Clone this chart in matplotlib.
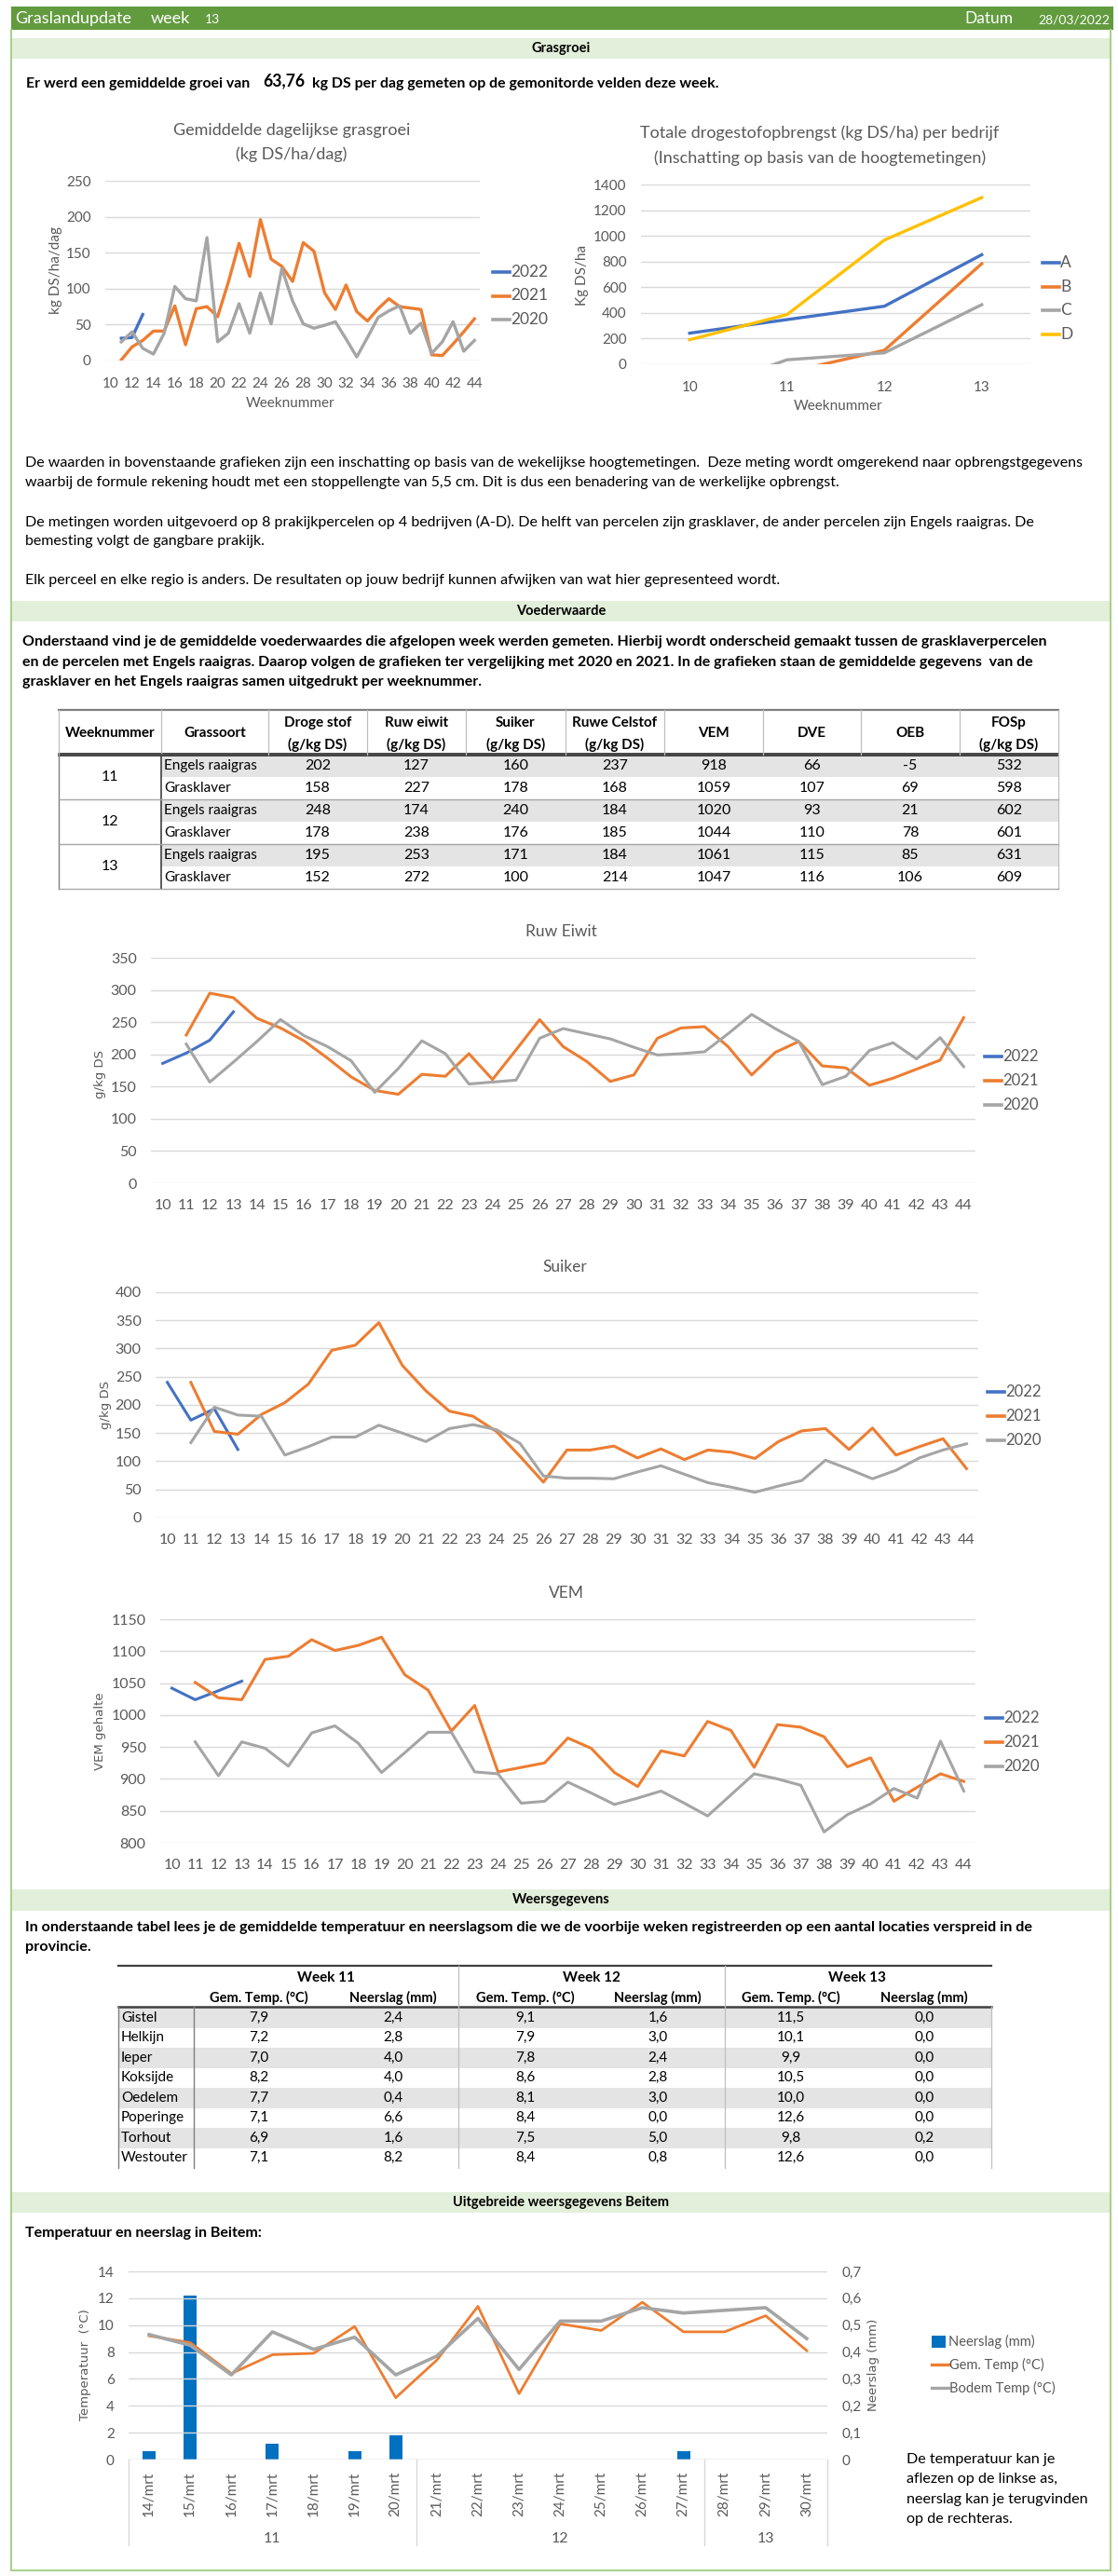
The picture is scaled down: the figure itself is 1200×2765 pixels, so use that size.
import numpy as np
import matplotlib
matplotlib.use("Agg")
import matplotlib.pyplot as plt
from matplotlib.patches import Rectangle
from matplotlib.lines import Line2D
from matplotlib.font_manager import FontProperties, findfont

nan = np.nan

# ---- gegevens ----
weken = np.arange(10, 45)

# grasgroei (kg DS/ha/dag), 2021/2020 vanaf week 11
groei_weken_2022 = [11, 12, 13]
groei_2022 = [31, 32, 64]
groei_weken = np.arange(11, 45)
groei_2021 = [1, 19, 28, 41, 41, 76, 22, 72, 75, 61, 109, 163, 117, 196, 141, 131, 110,
              164, 152, 94, 71, 105, 68, 55, 72, 86, 75, 73, 71, 8, 7, 23, 40, 58]
groei_2020 = [26, 40, 17, 9, 38, 103, 86, 83, 171, 26, 38, 79, 38, 94, 51, 128, 83,
              51, 45, 49, 54, 30, 5, 32, 60, 69, 76, 38, 52, 10, 26, 54, 13, 28]

# drogestofopbrengst per bedrijf
bedrijf_weken = [10, 11, 12, 13]
bedrijf_A = [242, 348, 452, 853]
bedrijf_B = [nan, -64, 109, 783]
bedrijf_C = [-235, 35, 89, 464]
bedrijf_D = [191, 387, 967, 1298]

# voederwaarde grafieken: 2022 week 10-13, 2021/2020 week 11-44
vw_weken_2022 = [10, 11, 12, 13]
vw_weken = np.arange(11, 45)
eiwit_2022 = [186, 202, 222, 266]
eiwit_2021 = [230, 295, 288, 256, 241, 221, 194, 165, 144, 138, 169, 166, 201, 161, 207, 254, 212,
              189, 158, 168, 225, 241, 243, 212, 168, 203, 220, 182, 179, 152, 163, 177, 191, 257]
eiwit_2020 = [216, 157, 188, 220, 254, 229, 212, 190, 141, 178, 221, 201, 154, 157, 160, 225, 240,
              232, 224, 211, 199, 201, 204, 232, 262, 240, 220, 153, 166, 206, 218, 193, 226, 181]
suiker_2022 = [240, 173, 193, 121]
suiker_2021 = [240, 153, 148, 183, 204, 237, 297, 306, 346, 270, 225, 189, 180, 153, 109, 63, 120,
               120, 127, 106, 122, 103, 120, 116, 105, 135, 154, 158, 121, 159, 111, 126, 140, 87]
suiker_2020 = [133, 196, 182, 180, 111, 126, 143, 143, 164, 150, 135, 158, 165, 156, 132, 74, 70,
               70, 69, 81, 92, 77, 62, 54, 45, 56, 66, 102, 86, 69, 84, 106, 120, 131]
vem_2022 = [1042, 1024, 1038, 1053]
vem_2021 = [1051, 1027, 1024, 1087, 1092, 1118, 1101, 1109, 1122, 1063, 1039, 975, 1015, 911, 918,
            925, 964, 948, 910, 888, 944, 936, 990, 976, 918, 985, 981, 966, 919, 933, 865, 887, 908, 896]
vem_2020 = [958, 905, 958, 948, 920, 972, 983, 956, 910, 941, 973, 973, 911, 908, 862, 865, 895,
            878, 860, 870, 881, 862, 842, 875, 908, 900, 890, 817, 844, 861, 885, 870, 959, 881]

# tabel voederwaarde
tabel_weken = [11, 12, 13]
tabel_soort = ["Engels raaigras", "Grasklaver"]
tabel_kop = [["Weeknummer"], ["Grassoort"], ["Droge stof", "(g/kg DS)"], ["Ruw eiwit", "(g/kg DS)"],
             ["Suiker", "(g/kg DS)"], ["Ruwe Celstof", "(g/kg DS)"], ["VEM"], ["DVE"], ["OEB"],
             ["FOSp", "(g/kg DS)"]]
droge_stof = [202, 158, 248, 178, 195, 152]
ruw_eiwit = [127, 227, 174, 238, 253, 272]
suiker = [160, 178, 240, 176, 171, 100]
ruwe_celstof = [237, 168, 184, 185, 184, 214]
vem = [918, 1059, 1020, 1044, 1061, 1047]
dve = [66, 107, 93, 110, 115, 116]
oeb = [-5, 69, 21, 78, 85, 106]
fosp = [532, 598, 602, 601, 631, 609]

# weersgegevens
locaties = ["Gistel", "Helkijn", "Ieper", "Koksijde", "Oedelem", "Poperinge", "Torhout", "Westouter"]
temp_w11 = [7.9, 7.2, 7.0, 8.2, 7.7, 7.1, 6.9, 7.1]
neer_w11 = [2.4, 2.8, 4.0, 4.0, 0.4, 6.6, 1.6, 8.2]
temp_w12 = [9.1, 7.9, 7.8, 8.6, 8.1, 8.4, 7.5, 8.4]
neer_w12 = [1.6, 3.0, 2.4, 2.8, 3.0, 0.0, 5.0, 0.8]
temp_w13 = [11.5, 10.1, 9.9, 10.5, 10.0, 12.6, 9.8, 12.6]
neer_w13 = [0.0, 0.0, 0.0, 0.0, 0.0, 0.0, 0.2, 0.0]

# Beitem
dagen = ["14/mrt", "15/mrt", "16/mrt", "17/mrt", "18/mrt", "19/mrt", "20/mrt", "21/mrt", "22/mrt",
         "23/mrt", "24/mrt", "25/mrt", "26/mrt", "27/mrt", "28/mrt", "29/mrt", "30/mrt"]
dag_week = [11] * 7 + [12] * 7 + [13] * 3
neerslag = [0.03, 0.61, 0, 0.06, 0, 0.03, 0.09, 0, 0, 0, 0, 0, 0, 0.03, 0, 0, 0]
gem_temp = [9.2, 8.7, 6.4, 7.8, 7.9, 9.9, 4.6, 7.4, 11.4, 4.9, 10.1, 9.6, 11.7, 9.5, 9.5, 10.7, 8.1]
bodem_temp = [9.3, 8.5, 6.3, 9.5, 8.2, 9.1, 6.3, 7.7, 10.5, 6.7, 10.3, 10.3, 11.3, 10.9, 11.1, 11.3, 9.0]


def pick(*names):
    for n in names:
        try:
            findfont(FontProperties(family=n), fallback_to_default=False)
            return n
        except Exception:
            pass
    return "DejaVu Sans"


BODY = pick("Lato", "Open Sans", "Noto Sans")
plt.rcParams["font.family"] = [BODY, "DejaVu Sans"]

C22, C21, C20, CD = "#4472c4", "#ed7d31", "#a5a5a5", "#ffc000"
TXT = "#595959"
GRID = "#d9d9d9"
HDR = "#629b3e"
BAND = "#e2efda"
FRAME = "#a9d18e"
SHADE = "#e4e4e4"

W, H = 1200, 2765
fig = plt.figure(figsize=(W / 100, H / 100), dpi=100)
renderer = fig.canvas.get_renderer()


def fx(x):
    return x / W


def fy(y):
    return 1 - y / H


def text(x, y, s, **kw):
    kw.setdefault("va", "center")
    return fig.text(fx(x), fy(y), s, **kw)


def rect(x0, y0, x1, y1, **kw):
    fig.add_artist(Rectangle((fx(x0), fy(y1)), (x1 - x0) / W, (y1 - y0) / H,
                             transform=fig.transFigure, **kw))


def hline(x0, x1, y, **kw):
    fig.add_artist(Line2D([fx(x0), fx(x1)], [fy(y), fy(y)], **kw))


def vline(x, y0, y1, **kw):
    fig.add_artist(Line2D([fx(x), fx(x)], [fy(y0), fy(y1)], **kw))


def axes_px(x0, y0, x1, y1):
    return fig.add_axes([fx(x0), fy(y1), (x1 - x0) / W, (y1 - y0) / H])


def breedte(s, size, weight="normal"):
    t = fig.text(0, 0, s, fontsize=size, weight=weight)
    w = t.get_window_extent(renderer=renderer).width
    t.remove()
    return w


def fit(s, width, weight="normal"):
    return 10 * width / breedte(s, 10, weight)


def band(y0, y1, title):
    rect(12, y0, 1192, y1, color=BAND, lw=0)
    text(602, (y0 + y1) / 2, title, ha="center", fontsize=10.5, weight="bold")


def legend_px(x, y0, dy, entries, size=11.5):
    for i, (lab, col) in enumerate(entries):
        y = y0 + i * dy
        hline(x, x + 18, y, color=col, lw=2.6)
        text(x + 19, y, lab, fontsize=size, color=TXT)


def style(ax, ylim, ystep, xlim, labsize=11):
    ax.set_xlim(*xlim)
    ax.set_ylim(*ylim)
    ax.set_yticks(np.arange(ylim[0], ylim[1] + 0.1, ystep))
    for s in ax.spines.values():
        s.set_visible(False)
    ax.grid(axis="y", color=GRID, lw=1.0)
    ax.set_axisbelow(True)
    ax.tick_params(length=0, colors=TXT, labelsize=labsize, pad=11)


# ---- kader en kop ----
rect(12, 7, 1195, 32, color=HDR, lw=0)
text(16, 20, "Graslandupdate", fontsize=13, color="white")
text(162, 20, "week", fontsize=13, color="white")
text(220, 21, "13", fontsize=10, color="white")
text(1035, 20, "Datum", fontsize=12.5, color="white")
text(1191, 21, "28/03/2022", fontsize=10, color="white", ha="right")
vline(12, 32, 2759, color=FRAME, lw=1.5)
vline(1192, 32, 2759, color=FRAME, lw=1.5)
hline(12, 1192, 2759, color=FRAME, lw=1.5)

# ---- grasgroei ----
band(41, 63, "Grasgroei")
zin = ["Er werd een gemiddelde groei van", "63,76", "kg DS per dag gemeten op de gemonitorde velden deze week."]
fs = fit(zin[0], 242, "bold")
text(28, 90, zin[0], fontsize=fs, weight="bold")
x2 = 28 + breedte(zin[0], fs, "bold") + 14
text(x2, 87, zin[1], fontsize=fs * 1.1, weight="bold")
x3 = x2 + breedte(zin[1], fs * 1.1, "bold") + 8
text(x3, 90, zin[2], fontsize=fs, weight="bold")

ax = axes_px(113, 194, 515, 387)
ax.plot(groei_weken_2022, groei_2022, color=C22, lw=2.4)
ax.plot(groei_weken, groei_2021, color=C21, lw=2.4)
ax.plot(groei_weken, groei_2020, color=C20, lw=2.4)
style(ax, (0, 250), 50, (9.5, 44.5))
ax.set_xticks(weken[::2])
ax.tick_params(axis="x", pad=13)
text(313, 140, "Gemiddelde dagelijkse grasgroei", ha="center", fontsize=13, color=TXT)
text(313, 166, "(kg DS/ha/dag)", ha="center", fontsize=13, color=TXT)
text(60, 290, "kg DS/ha/dag", rotation=90, ha="center", fontsize=11, color=TXT)
text(312, 433, "Weeknummer", ha="center", fontsize=11, color=TXT)
legend_px(529, 292, 25.5, [("2022", C22), ("2021", C21), ("2020", C20)], size=12.5)

ax = axes_px(688, 198, 1106, 391)
ax.plot(bedrijf_weken, bedrijf_A, color=C22, lw=2.4)
ax.plot(bedrijf_weken, bedrijf_B, color=C21, lw=2.4)
ax.plot(bedrijf_weken, bedrijf_C, color=C20, lw=2.4)
ax.plot(bedrijf_weken, bedrijf_D, color=CD, lw=2.4)
style(ax, (0, 1400), 200, (9.5, 13.5))
ax.set_xticks(bedrijf_weken)
ax.tick_params(axis="x", pad=13)
text(880, 143, "Totale drogestofopbrengst (kg DS/ha) per bedrijf", ha="center", fontsize=13, color=TXT)
text(880, 170, "(Inschatting op basis van de hoogtemetingen)", ha="center", fontsize=13, color=TXT)
text(625, 295, "Kg DS/ha", rotation=90, ha="center", fontsize=11, color=TXT)
text(900, 436, "Weeknummer", ha="center", fontsize=11, color=TXT)
legend_px(1119, 282, 25.7, [("A", C22), ("B", C21), ("C", C20), ("D", CD)], size=12.5)

para1 = ["De waarden in bovenstaande grafieken zijn een inschatting op basis van de wekelijkse hoogtemetingen.  Deze meting wordt omgerekend naar opbrengstgegevens",
         "waarbij de formule rekening houdt met een stoppellengte van 5,5 cm. Dit is dus een benadering van de werkelijke opbrengst."]
para2 = ["De metingen worden uitgevoerd op 8 prakijkpercelen op 4 bedrijven (A-D). De helft van percelen zijn grasklaver, de ander percelen zijn Engels raaigras. De",
         "bemesting volgt de gangbare prakijk."]
para3 = ["Elk perceel en elke regio is anders. De resultaten op jouw bedrijf kunnen afwijken van wat hier gepresenteed wordt."]
fs = fit(para1[0], 1135)
for lines, y0 in [(para1, 497), (para2, 560), (para3, 623)]:
    for i, s in enumerate(lines):
        text(27, y0 + i * 21, s, fontsize=fs)

# ---- voederwaarde ----
band(645, 667, "Voederwaarde")
para4 = ["Onderstaand vind je de gemiddelde voederwaardes die afgelopen week werden gemeten. Hierbij wordt onderscheid gemaakt tussen de grasklaverpercelen",
         "en de percelen met Engels raaigras. Daarop volgen de grafieken ter vergelijking met 2020 en 2021. In de grafieken staan de gemiddelde gegevens  van de",
         "grasklaver en het Engels raaigras samen uitgedrukt per weeknummer."]
fs = fit(para4[0], 1112, "bold")
for i, s in enumerate(para4):
    text(24, 689 + i * 21.5, s, fontsize=fs, weight="bold")

cols = [63, 173, 288, 394, 500, 607, 713, 819, 924, 1030, 1136]
top, kop_onder, rij_h = 762, 810, 24
for i in range(6):
    if i % 2 == 0:
        rect(173, kop_onder + i * rij_h, 1136, kop_onder + (i + 1) * rij_h, color=SHADE, lw=0)
hline(63, 1136, top, color="#7f7f7f", lw=1.6)
hline(63, 1136, kop_onder - 1, color="#262626", lw=1.2)
hline(63, 1136, kop_onder + 1, color="#262626", lw=1.2)
for x in cols:
    vline(x, top, kop_onder, color="#bfbfbf", lw=0.9)
vline(63, kop_onder, kop_onder + 6 * rij_h, color="#7f7f7f", lw=1.0)
vline(173, kop_onder, kop_onder + 6 * rij_h, color="#404040", lw=1.2)
vline(1136, kop_onder, kop_onder + 6 * rij_h, color="#bfbfbf", lw=0.9)
for k in (2, 4, 6):
    hline(63, 1136, kop_onder + k * rij_h, color="#a6a6a6", lw=1.0)
for j, kop in enumerate(tabel_kop):
    xc = (cols[j] + cols[j + 1]) / 2
    if len(kop) == 1:
        text(xc, 787, kop[0], ha="center", fontsize=11, weight="bold")
    else:
        text(xc, 776, kop[0], ha="center", fontsize=11, weight="bold")
        text(xc, 799, kop[1], ha="center", fontsize=11, weight="bold")
waarden = [droge_stof, ruw_eiwit, suiker, ruwe_celstof, vem, dve, oeb, fosp]
for i in range(6):
    yc = kop_onder + (i + 0.5) * rij_h
    text(176, yc, tabel_soort[i % 2], fontsize=11)
    for j, kol in enumerate(waarden):
        text((cols[j + 2] + cols[j + 3]) / 2, yc, str(kol[i]), ha="center", fontsize=11.5)
for k, wk in enumerate(tabel_weken):
    text((cols[0] + cols[1]) / 2, kop_onder + (2 * k + 1) * rij_h, str(wk), ha="center", fontsize=11.5)


def lijnen_grafiek(box, titel, ylabel, ylab_xy, ylim, ystep, reeksen, legend_xy, title_y):
    ax = axes_px(*box)
    for w, v, c in reeksen:
        ax.plot(w, v, color=c, lw=2.2)
    style(ax, ylim, ystep, (9.5, 44.5), labsize=11.5)
    ax.set_xticks(weken)
    ax.tick_params(axis="x", pad=12)
    text((box[0] + box[2]) / 2 - 2, title_y, titel, ha="center", fontsize=12.5, color=TXT)
    text(ylab_xy[0], ylab_xy[1], ylabel, rotation=90, ha="center", fontsize=9.5,
         color=TXT, family="DejaVu Sans")
    legend_px(legend_xy[0], legend_xy[1], 26, [("2022", C22), ("2021", C21), ("2020", C20)], size=12)
    return ax


lijnen_grafiek((162, 1028, 1047, 1270), "Ruw Eiwit", "g/kg DS", (108, 1153), (0, 350), 50,
               [(vw_weken_2022, eiwit_2022, C22), (vw_weken, eiwit_2021, C21), (vw_weken, eiwit_2020, C20)],
               (1057, 1134), 1000)
lijnen_grafiek((167, 1387, 1050, 1629), "Suiker", "g/kg DS", (113, 1508), (0, 400), 50,
               [(vw_weken_2022, suiker_2022, C22), (vw_weken, suiker_2021, C21), (vw_weken, suiker_2020, C20)],
               (1060, 1494), 1360)
lijnen_grafiek((172, 1738, 1047, 1978), "VEM", "VEM gehalte", (108, 1858), (800, 1150), 50,
               [(vw_weken_2022, vem_2022, C22), (vw_weken, vem_2021, C21), (vw_weken, vem_2020, C20)],
               (1058, 1844), 1710)

# ---- weersgegevens ----
band(2028, 2051, "Weersgegevens")
para5 = ["In onderstaande tabel lees je de gemiddelde temperatuur en neerslagsom die we de voorbije weken registreerden op een aantal locaties verspreid in de",
         "provincie."]
fs = fit(para5[0], 1090, "bold")
for i, s in enumerate(para5):
    text(27, 2069 + i * 21, s, fontsize=fs, weight="bold")

wx = [127, 208, 492, 778, 1064]
sub_x = [278, 422, 564, 706, 849, 992]
week_x = [350, 635, 920]
r0, rh = 2155, 21.5
for i in range(len(locaties)):
    if i % 2 == 0:
        rect(127, r0 + i * rh, 1064, r0 + (i + 1) * rh, color=SHADE, lw=0)
hline(127, 1064, 2110, color="#404040", lw=1.6)
hline(127, 1064, 2154, color="#404040", lw=1.8)
for x in wx[2:4]:
    vline(x, 2110, r0 + 8 * rh, color="#bfbfbf", lw=0.9)
vline(127, 2154, r0 + 8 * rh, color="#7f7f7f", lw=1.0)
vline(208, 2154, r0 + 8 * rh, color="#7f7f7f", lw=1.0)
vline(1064, 2154, r0 + 8 * rh, color="#bfbfbf", lw=0.9)
for k, wk in enumerate(["Week 11", "Week 12", "Week 13"]):
    text(week_x[k], 2123, wk, ha="center", fontsize=11, weight="bold")
    text(sub_x[2 * k], 2144, "Gem. Temp. (°C)", ha="center", fontsize=10.5, weight="bold")
    text(sub_x[2 * k + 1], 2144, "Neerslag (mm)", ha="center", fontsize=10.5, weight="bold")
kolommen = [temp_w11, neer_w11, temp_w12, neer_w12, temp_w13, neer_w13]
for i, loc in enumerate(locaties):
    yc = r0 + (i + 0.5) * rh
    text(130, yc, loc, fontsize=11)
    for j, kol in enumerate(kolommen):
        text(sub_x[j], yc, f"{kol[i]:.1f}".replace(".", ","), ha="center", fontsize=11)

# ---- Beitem ----
band(2353, 2375, "Uitgebreide weersgegevens Beitem")
text(27, 2397, "Temperatuur en neerslag in Beitem:", fontsize=fit("Temperatuur en neerslag in Beitem:", 256, "bold"),
     weight="bold")

ax = axes_px(138, 2438, 888, 2640)
axr = ax.twinx()
x = np.arange(len(dagen))
axr.bar(x, neerslag, width=0.32, color="#0070c0")
ax.plot(x, gem_temp, color=C21, lw=2.0)
ax.plot(x, bodem_temp, color=C20, lw=2.6)
ax.set_zorder(axr.get_zorder() + 1)
ax.patch.set_visible(False)
style(ax, (0, 14), 2, (-0.5, len(dagen) - 0.5), labsize=11)
axr.set_ylim(0, 0.7)
rt = np.arange(0, 0.71, 0.1)
axr.set_yticks(rt)
axr.set_yticklabels(["0"] + [f"{v:.1f}".replace(".", ",") for v in rt[1:]])
for s in axr.spines.values():
    s.set_visible(False)
axr.tick_params(length=0, colors=TXT, labelsize=11, pad=11)
ax.set_xticks(x)
ax.set_xticklabels(dagen, rotation=90, fontsize=11, va="top")
ax.tick_params(axis="x", pad=9)
ax.axhline(0, color=GRID, lw=1.0)
# weekgroepen onder de as
grenzen = [-0.5] + [i + 0.5 for i in range(len(dag_week) - 1) if dag_week[i] != dag_week[i + 1]] + [len(dag_week) - 0.5]
for g in grenzen:
    ax.plot([g, g], [0, -0.455], color=GRID, lw=1.0, transform=ax.get_xaxis_transform(), clip_on=False)
for wk in sorted(set(dag_week)):
    idx = [i for i, d in enumerate(dag_week) if d == wk]
    ax.text(np.mean(idx), -0.42, str(wk), transform=ax.get_xaxis_transform(), ha="center",
            va="center", fontsize=11.5, color=TXT)
text(92, 2538, "Temperatuur  (°C)", rotation=90, ha="center", fontsize=9.5, color=TXT, family="DejaVu Sans")
text(938, 2538, "Neerslag (mm)", rotation=90, ha="center", fontsize=9.5, color=TXT, family="DejaVu Sans")
rect(1000, 2507, 1015, 2520, color="#0070c0", lw=0)
text(1018, 2513, "Neerslag (mm)", fontsize=10.5, color=TXT)
hline(1000, 1018, 2538, color=C21, lw=2.4)
text(1019, 2538, "Gem. Temp (°C)", fontsize=10.5, color=TXT)
hline(1000, 1018, 2563, color=C20, lw=2.4)
text(1019, 2563, "Bodem Temp (°C)", fontsize=10.5, color=TXT)
uitleg = ["De temperatuur kan je", "aflezen op de linkse as,", "neerslag kan je terugvinden", "op de rechteras."]
fs = fit(uitleg[2], 194)
for i, s in enumerate(uitleg):
    text(973, 2640 + i * 21.3, s, fontsize=fs)

fig.savefig("out.png", dpi=100, facecolor="white")
